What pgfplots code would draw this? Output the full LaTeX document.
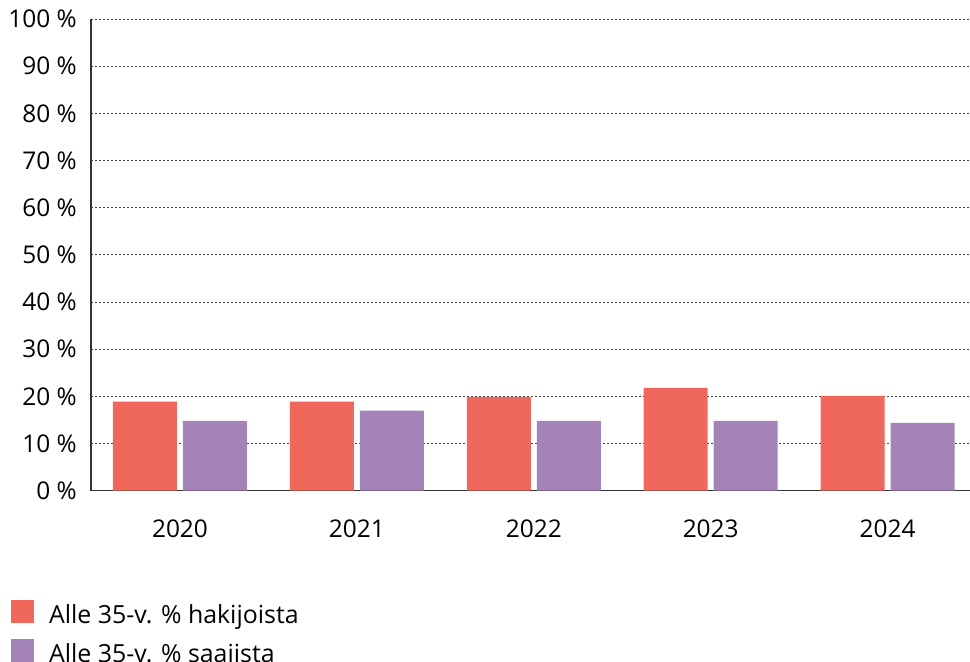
\documentclass[border=0pt]{standalone}
\usepackage{pgfplots}
\pgfplotsset{compat=1.18}
\usepackage{fontspec}
\setmainfont{Open Sans}
\definecolor{cred}{RGB}{240,103,92}
\definecolor{cpurple}{RGB}{164,132,184}
\begin{document}
\begin{tikzpicture}
\useasboundingbox (0,0) rectangle (970bp,-662bp);
\begin{axis}[
  at={(91bp,-490.7bp)}, anchor=south west,
  scale only axis, width=879bp, height=471.7bp,
  xmin=-0.503, xmax=4.466, ymin=0, ymax=100,
  axis x line=bottom, axis y line=left,
  axis line style={-, black!80, line width=1.2bp},
  ytick={0,10,20,30,40,50,60,70,80,90,100},
  yticklabels={0 \%,10 \%,20 \%,30 \%,40 \%,50 \%,60 \%,70 \%,80 \%,90 \%,100 \%},
  xtick={0,1,2,3,4},
  xticklabels={2020,2021,2022,2023,2024},
  major tick length=0pt,
  ymajorgrids,
  grid style={dash pattern=on 2bp off 2bp, black!75, line width=0.8bp},
  ticklabel style={font=\fontsize{24.5}{29}\selectfont},
  yticklabel style={inner sep=0pt, xshift=-14bp},
  xticklabel style={inner sep=0pt, yshift=-29bp},
  ybar, bar width=64bp,
  legend style={draw=none, fill=none, at={(-0.091,-0.2317)}, anchor=north west,
    inner sep=0pt, outer sep=0pt, font=\fontsize{25}{29}\selectfont,
    row sep=9.5bp,
    nodes={inner sep=0pt, text height=17.7bp, text depth=5.3bp},
    /tikz/every odd column/.append style={column sep=15bp}},
  legend cell align=left,
  legend image code/.code={\fill[#1] (0bp,-5.3bp) rectangle (23bp,17.7bp);},
]
\addplot[fill=cred, draw=none, bar shift=-35bp] coordinates {(0,18.9) (1,18.9) (2,19.9) (3,21.8) (4,20.1)};
\addplot[fill=cpurple, draw=none, bar shift=35bp] coordinates {(0,14.8) (1,17.0) (2,14.8) (3,14.8) (4,14.4)};
\legend{Alle 35-v. \% hakijoista, Alle 35-v. \% saajista}
\end{axis}
\end{tikzpicture}
\end{document}
